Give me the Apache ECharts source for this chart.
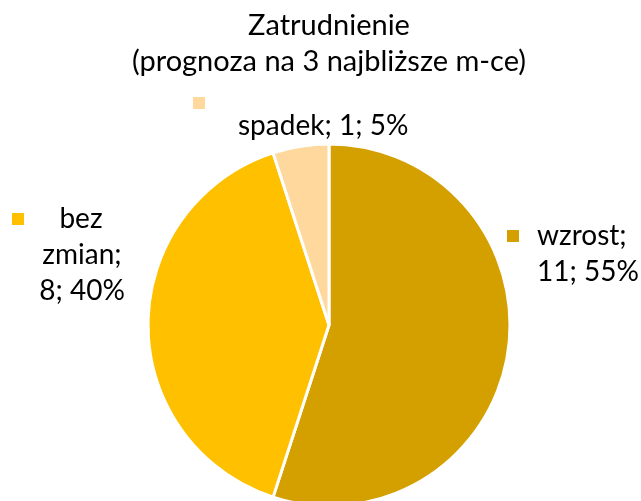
<!DOCTYPE html>
<html>
<head>
<meta charset="utf-8">
<script src="https://cdn.jsdelivr.net/npm/echarts@6/dist/echarts.min.js"></script>
<style>
  html, body { margin: 0; padding: 0; background: #fff; }
  #chart-container { width: 641px; height: 501px; }
</style>
</head>
<body>
<div id="chart-container"></div>
<script>
const categories = ["wzrost", "bez zmian", "spadek"];
const values = [11, 8, 1];
const percents = [55, 40, 5];
const colors = ["#D4A000", "#FFC000", "#FFD89E"];

const dom = document.getElementById("chart-container");
const myChart = echarts.init(dom, null, { renderer: "canvas" });

const font = "Lato";
const fs = 28;

// label texts, split like in the original
const labelText = (i) => {
  const c = categories[i], v = values[i], p = percents[i];
  if (i === 0) return `{sq0|}{t|${c};}\n{t2|${v}; ${p}%}`;
  if (i === 1) return `{sq1|}{tb|bez}\n{tc|zmian;}\n{tc|${v}; ${p}%}`;
  return `{sq2|}\n{ts|${c}; ${v}; ${p}%}`;
};

const sq = (i, extra) => Object.assign({
  width: 12, height: 12, backgroundColor: colors[i], align: "left"
}, extra);

const txt = (extra) => Object.assign({
  fontFamily: font, fontSize: fs, color: "#000", lineHeight: 36
}, extra);

// where each label sits (left/top of the text block)
const labelPos = [
  { x: 507, y: 218, width: 132 },
  { x: 12, y: 201, width: 140 },
  { x: 193, y: 95, width: 230 }
];

var option = {
  title: {
    text: "Zatrudnienie\n(prognoza na 3 najbliższe m-ce)",
    left: 324, // centred over the pie, not the canvas
    textAlign: "center",
    top: 3,
    textStyle: {
      fontFamily: font,
      fontSize: 29,
      fontWeight: "normal",
      color: "#000",
      lineHeight: 36
    }
  },
  series: [
    {
      type: "pie",
      center: [329, 325],
      radius: 181,
      startAngle: 90,
      clockwise: true,
      animation: false,
      data: categories.map((c, i) => ({
        name: c,
        value: values[i],
        itemStyle: { color: colors[i] },
        label: { width: labelPos[i].width }
      })),
      itemStyle: { borderColor: "#fff", borderWidth: 3 },
      label: {
        show: true,
        position: "outside",
        formatter: (p) => labelText(p.dataIndex),
        fontFamily: font,
        fontSize: fs,
        color: "#000",
        rich: {
          sq0: sq(0),
          sq1: sq(1),
          sq2: sq(2, { lineHeight: 16 }),
          t: txt({ padding: [0, 0, 0, 18], align: "left" }),
          t2: txt({ padding: [0, 0, 0, 30], align: "left" }),
          tb: txt({ padding: [0, 14, 0, 0], align: "center" }),
          tc: txt({ align: "center" }),
          ts: txt({ lineHeight: 30, padding: [0, 0, 0, 45], align: "left" })
        }
      },
      labelLine: { show: false },
      labelLayout: (params) => {
        const pos = labelPos[params.dataIndex];
        return { x: pos.x, y: pos.y, align: "left", verticalAlign: "top", moveOverlap: null };
      }
    }
  ]
};

myChart.setOption(option);
window.addEventListener("resize", myChart.resize);
</script>
</body>
</html>
